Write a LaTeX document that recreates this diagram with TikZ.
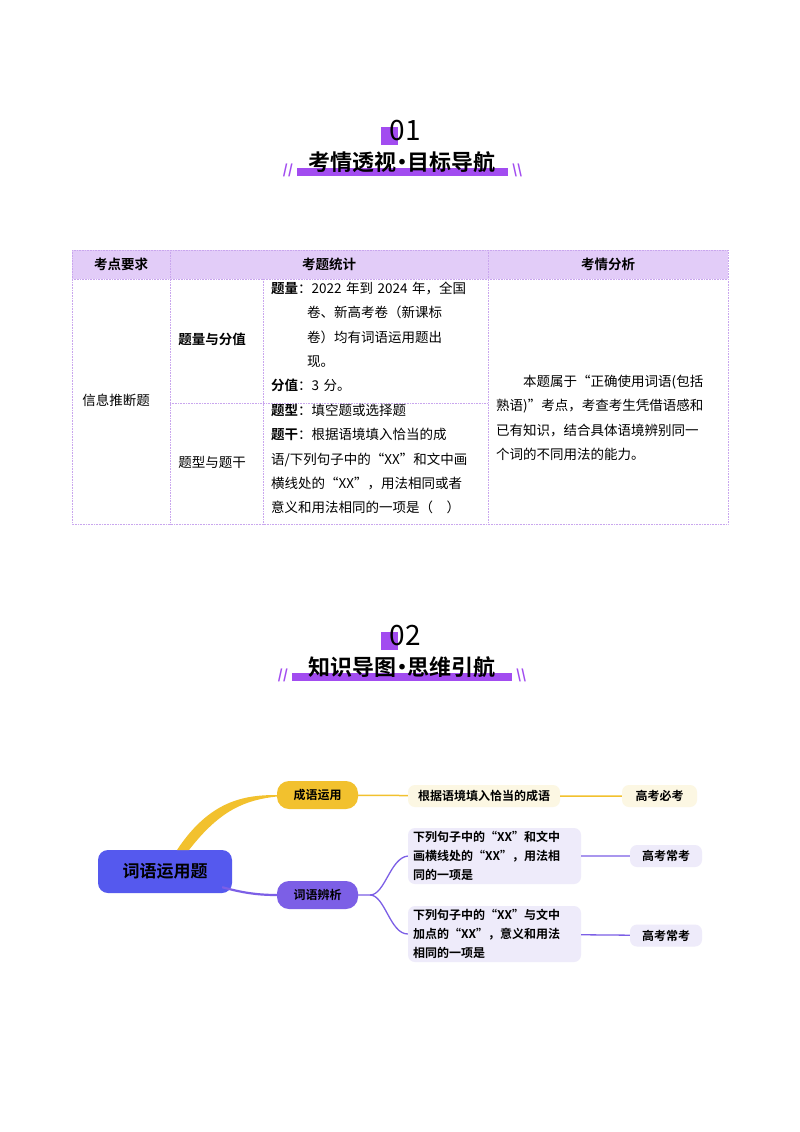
\documentclass[tikz,border=0pt]{standalone}
\usepackage{fontspec}
\setmainfont{Noto Sans CJK SC}
\newfontfamily\cjkb{Noto Sans CJK SC Bold}
\usetikzlibrary{calc}
\definecolor{pur}{HTML}{A24CF0}
\definecolor{hdr}{HTML}{E2CCF8}
\definecolor{grd}{HTML}{C9A6EE}
\definecolor{cblue}{HTML}{5559EE}
\definecolor{cyel}{HTML}{F2C12E}
\definecolor{cvio}{HTML}{7C5FE6}
\definecolor{lyel}{HTML}{FCF7E3}
\definecolor{lvio}{HTML}{EEEBFA}
\newcommand{\dt}{{\kern-0.25em·\kern-0.25em}}
\tikzset{
  tb/.style={font=\fontsize{13.5}{24.3}\selectfont},
  th/.style={font=\cjkb\fontsize{13.5}{16}\selectfont},
  mm/.style={rounded corners=7pt,align=left,inner sep=0pt,font=\cjkb\fontsize{12}{19}\selectfont},
  gl/.style={draw=grd,densely dotted,line width=0.6pt}
}
\begin{document}
\begin{tikzpicture}[x=1pt,y=-1pt]
\useasboundingbox (0,0) rectangle (800,1132);
\fill[white] (0,0) rectangle (800,1132);
% section headers
\foreach \yy/\num/\ttl/\bx/\ex in {131/01/考情透视\dt 目标导航/297/508, 636/02/知识导图\dt 思维引航/292/512}{
  \fill[pur] (381,\yy-4) rectangle (398,\yy+14);
  \node[font=\fontsize{28}{28}\selectfont] (n\num) at (405,\yy) {\num};
  \fill[pur] (\bx,\yy+37) rectangle (\ex,\yy+45);
  \node[font=\cjkb\fontsize{22}{22}\selectfont] (t\num) at (402,\yy+31) {\ttl};
  \node[text=pur,font=\bfseries\fontsize{13}{13}\selectfont] (sl\num) at (\bx-9,\yy+39) {//};
  \node[text=pur,font=\bfseries\fontsize{13}{13}\selectfont] (sr\num) at (\ex+9,\yy+39) {\textbackslash\textbackslash};
}
% table
\fill[hdr] (72,250) rectangle (728,279);
\draw[gl] (72,250) rectangle (728,524);
\draw[gl] (72,279) -- (728,279);
\draw[gl] (170,250) -- (170,524);
\draw[gl] (488,250) -- (488,524);
\draw[gl] (263,279) -- (263,524);
\draw[gl] (170,403) -- (488,403);
\node[th] (h1) at (121,264) {考点要求};
\node[th] (h2) at (329,264) {考题统计};
\node[th] (h3) at (608,264) {考情分析};
\node[tb] (c1) at (116,400) {信息推断题};
\node[th] (c2) at (212,339) {题量与分值};
\node[tb] (c3) at (212,462) {题型与题干};
\node[tb,anchor=north west,align=left,text width=218pt,inner sep=0pt] (c4) at (271,282)
 {{\cjkb 题量}：2022 年到 2024 年，全国\\\hspace*{36pt}卷、新高考卷（新课标\\\hspace*{36pt}卷）均有词语运用题出\\\hspace*{36pt}现。\\{\cjkb 分值}：3 分。};
\node[tb,anchor=north west,align=left,text width=218pt,inner sep=0pt] (c5) at (271,404)
 {{\cjkb 题型}：填空题或选择题\\{\cjkb 题干}：根据语境填入恰当的成\\语/下列句子中的“XX”和文中画\\横线处的“XX”，用法相同或者\\意义和用法相同的一项是（\quad）};
\node[tb,anchor=north west,align=left,inner sep=0pt] (c6) at (496,375)
 {\hspace*{27pt}本题属于“正确使用词语(包括\\熟语)”考点，考查考生凭借语感和\\已有知识，结合具体语境辨别同一\\个词的不同用法的能力。};
% mind map
\node[mm,fill=cblue,minimum width=134pt,minimum height=43pt,align=center,font=\cjkb\fontsize{17}{17}\selectfont,rounded corners=10pt] (root) at (165,871.5) {词语运用题};
\node[mm,fill=cyel,minimum width=81pt,minimum height=28pt,align=center,rounded corners=12pt] (a) at (317.5,795) {成语运用};
\node[mm,fill=cvio,minimum width=81pt,minimum height=28pt,align=center,rounded corners=12pt] (b) at (317.5,895) {词语辨析};
\node[mm,fill=lyel,minimum width=152pt,minimum height=22pt,align=center] (a1) at (484,796) {根据语境填入恰当的成语};
\node[mm,fill=lyel,minimum width=75pt,minimum height=22pt,align=center] (a2) at (659.5,796) {高考必考};
\node[mm,fill=lvio,minimum width=173pt,minimum height=56pt,text width=163pt] (b1) at (494.5,856) {下列句子中的“XX”和文中\\画横线处的“XX”，用法相\\同的一项是};
\node[mm,fill=lvio,minimum width=173pt,minimum height=56pt,text width=163pt] (b2) at (494.5,934) {下列句子中的“XX”与文中\\加点的“XX”，意义和用法\\相同的一项是};
\node[mm,fill=lvio,minimum width=72pt,minimum height=22pt,align=center] (b3) at (666,856) {高考常考};
\node[mm,fill=lvio,minimum width=72pt,minimum height=22pt,align=center] (b4) at (666,935.5) {高考常考};
\fill[cyel] (177,850) .. controls (210,800) and (245,795) .. (a.west) -- ++(0,1.5) .. controls (245,800) and (220,810) .. (189,850) -- cycle;
\draw[cvio,line width=2.2pt] (root.south east) ++(-10,-6) .. controls (240,892) and (255,895) .. (b.west);
\draw[cyel,line width=1.5pt] (a) -- (a1) (a1) -- (a2);
\coordinate (bj) at (370,895);
\draw[cvio,line width=1.3pt] (b.east) -- (bj) .. controls (385,895) and (390,858) .. (b1.west);
\draw[cvio,line width=1.3pt] (bj) .. controls (385,895) and (390,934) .. (b2.west);
\draw[cvio,line width=1.3pt] (b1) -- (b3) (b2) -- (b4);
\end{tikzpicture}
\end{document}
